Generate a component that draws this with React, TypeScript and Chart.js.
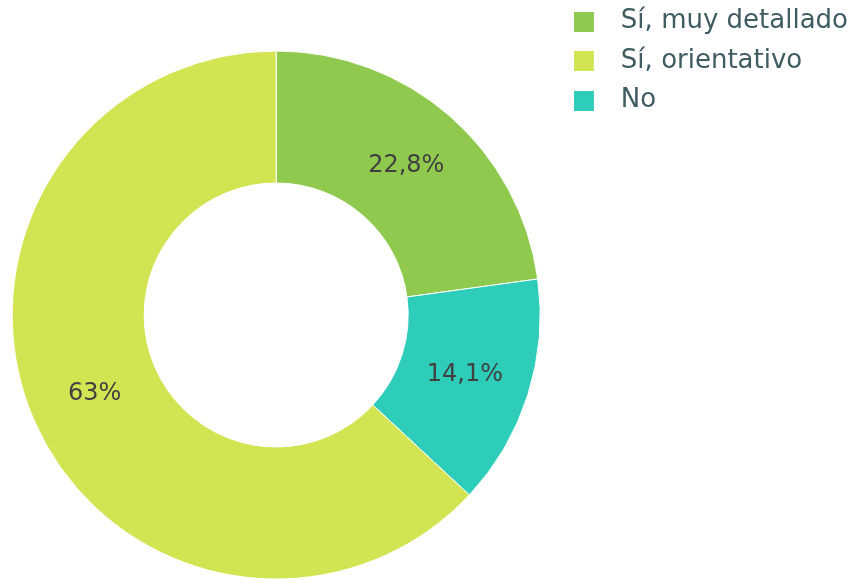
import React, { useEffect, useRef } from "react";
import { Chart, registerables } from "chart.js";

Chart.register(...registerables);

// Drawing order (clockwise from the top)
const categories = ["Sí, muy detallado", "No", "Sí, orientativo"];
const values = [22.8, 14.1, 63];
const sliceColors = ["#8fca4e", "#2ecdb9", "#d3e452"];
// Legend order as shown
const legendOrder = ["Sí, muy detallado", "Sí, orientativo", "No"];

const FONT = '"DejaVu Sans", "Noto Sans", sans-serif';
const LEGEND_SIZE = 26;
const LEGEND_PAD = 13.5;

function makeSwatch(color: string): HTMLCanvasElement {
  const c = document.createElement("canvas");
  c.width = 34;
  c.height = 20;
  const ctx = c.getContext("2d")!;
  ctx.fillStyle = color;
  ctx.fillRect(0, 0, 20, 20);
  return c;
}

const valueLabels = {
  id: "valueLabels",
  afterDatasetsDraw(chart: any) {
    const ctx = chart.ctx;
    const meta = chart.getDatasetMeta(0);
    ctx.save();
    ctx.font = `24px ${FONT}`;
    ctx.fillStyle = "#404040";
    ctx.textAlign = "center";
    ctx.textBaseline = "middle";
    meta.data.forEach((arc: any, i: number) => {
      const p = arc.getCenterPoint();
      const txt = String(values[i]).replace(".", ",") + "%";
      ctx.fillText(txt, p.x, p.y);
    });
    ctx.restore();
  },
};

export default function App() {
  const ref = useRef<HTMLCanvasElement>(null);

  useEffect(() => {
    if (!ref.current) return;
    const chart = new Chart(ref.current, {
      type: "doughnut",
      data: {
        labels: categories,
        datasets: [
          {
            data: values,
            backgroundColor: sliceColors,
            borderColor: "#ffffff",
            borderWidth: 1,
            radius: 264,
            cutout: "50%",
          } as any,
        ],
      },
      options: {
        animation: false,
        responsive: true,
        maintainAspectRatio: false,
        layout: { padding: 0 },
        plugins: {
          tooltip: { enabled: false },
          legend: {
            position: "right",
            align: "start",
            labels: {
              font: { size: LEGEND_SIZE, family: FONT },
              color: "#3e5c62",
              padding: LEGEND_PAD,
              boxHeight: 20,
              usePointStyle: true,
              pointStyleWidth: 34,
              generateLabels: (c: any) => {
                const items = (Chart as any).overrides.doughnut.plugins.legend.labels.generateLabels(c);
                items.forEach((it: any) => {
                  it.pointStyle = makeSwatch(it.fillStyle);
                  it.lineWidth = 0;
                });
                return items.sort(
                  (a: any, b: any) => legendOrder.indexOf(a.text) - legendOrder.indexOf(b.text)
                );
              },
            },
          },
        },
      },
      plugins: [valueLabels],
    });
    return () => chart.destroy();
  }, []);

  return (
    <div
      style={{
        position: "fixed",
        left: -8,
        top: -5,
        width: 866,
        height: 640,
        background: "#fff",
      }}
    >
      <canvas ref={ref} />
    </div>
  );
}
